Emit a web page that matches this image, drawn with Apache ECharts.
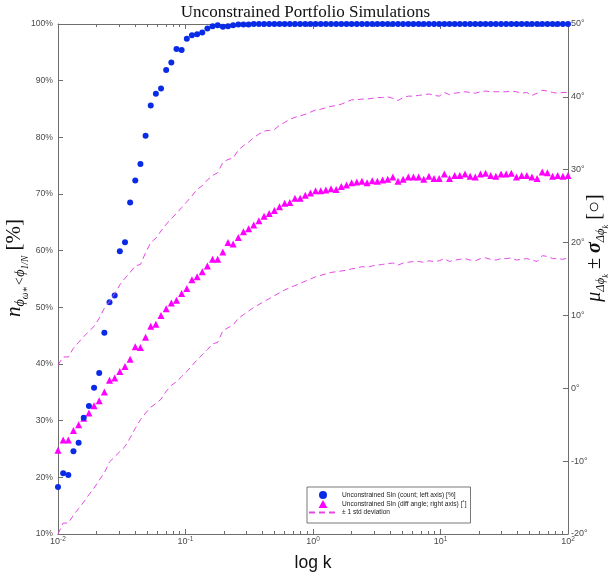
<!DOCTYPE html>
<html>
<head>
<meta charset="utf-8">
<script src="https://cdn.jsdelivr.net/npm/echarts@6/dist/echarts.min.js"></script>
<style>html,body{margin:0;padding:0;background:#fff}#c{width:611px;height:579px}</style>
</head>
<body>
<div id="c"></div>
<script>
// ---- data ----
const kValues = [0.01, 0.01098, 0.01205, 0.01322, 0.01451, 0.01592, 0.01748, 0.01918, 0.02105, 0.02310,
  0.02535, 0.02783, 0.03054, 0.03352, 0.03678, 0.04037, 0.04431, 0.04863, 0.05337, 0.05857,
  0.06428, 0.07055, 0.07743, 0.08498, 0.09326,
  0.1024, 0.1123, 0.1233, 0.1353, 0.1485, 0.1630, 0.1789, 0.1963, 0.2154, 0.2364,
  0.2595, 0.2848, 0.3126, 0.3430, 0.3765, 0.4132, 0.4535, 0.4977, 0.5462, 0.5995,
  0.6579, 0.7221, 0.7925, 0.8697, 0.9545,
  1.048, 1.150, 1.262, 1.385, 1.520, 1.668, 1.831, 2.009, 2.205, 2.420,
  2.656, 2.915, 3.199, 3.511, 3.853, 4.229, 4.642, 5.094, 5.591, 6.136,
  6.734, 7.391, 8.111, 8.902, 9.770,
  10.72, 11.77, 12.92, 14.17, 15.56, 17.07, 18.74, 20.57, 22.57, 24.77,
  27.19, 29.84, 32.75, 35.94, 39.44, 43.29, 47.51, 52.14, 57.23, 62.80,
  68.93, 75.65, 83.02, 91.12, 100];

const countPct = [18.3, 20.7, 20.4, 24.6, 26.1, 30.5, 32.6, 35.8, 38.4, 45.5,
  50.9, 52.1, 59.9, 61.5, 68.5, 72.4, 75.3, 80.3, 85.6, 87.7,
  88.6, 91.9, 93.2, 95.6, 95.4, 97.4, 98.0, 98.2, 98.5, 99.2,
  99.6, 99.8, 99.5, 99.6, 99.8, 99.9, 99.9, 99.9, 100, 100,
  100, 100, 100, 100, 100, 100, 100, 100, 100, 100,
  100, 100, 100, 100, 100, 100, 100, 100, 100, 100,
  100, 100, 100, 100, 100, 100, 100, 100, 100, 100,
  100, 100, 100, 100, 100, 100, 100, 100, 100, 100,
  100, 100, 100, 100, 100, 100, 100, 100, 100, 100,
  100, 100, 100, 100, 100, 100, 100, 100, 100, 100];

const diffAngleMean = [-8.5, -7.1, -7.1, -5.8, -5.0, -4.1, -3.4, -2.4, -1.7, -0.5,
  1.1, 1.4, 2.3, 3.0, 4.0, 5.7, 5.6, 7.0, 8.5, 8.8,
  10.0, 10.9, 11.7, 12.1, 13.0, 13.7, 14.9, 15.3, 16.0, 16.8,
  17.7, 17.7, 18.7, 20.0, 19.8, 20.7, 21.5, 21.9, 22.4, 23.0,
  23.6, 24.0, 24.4, 24.9, 25.4, 25.5, 26.1, 26.1, 26.5, 26.8,
  27.1, 27.1, 27.2, 27.4, 27.3, 27.7, 27.9, 28.2, 28.3, 28.4,
  28.2, 28.5, 28.4, 28.6, 28.7, 29.0, 28.4, 28.7, 29.0, 29.0,
  29.0, 28.7, 29.1, 28.8, 28.8, 29.4, 28.8, 29.2, 29.2, 29.4,
  29.1, 29.0, 29.4, 29.5, 29.2, 29.1, 29.4, 29.4, 29.5, 29.0,
  29.2, 29.2, 29.0, 28.8, 29.7, 29.6, 29.1, 29.2, 29.1, 29.2];

const diffAngleUpper = [3.2, 4.3, 4.3, 5.5, 6.3, 7.1, 7.8, 8.5, 9.6, 11.0,
  11.9, 13.0, 14.2, 15.1, 15.9, 16.8, 17.0, 18.6, 20.0, 20.6,
  21.6, 22.5, 23.3, 24.0, 24.8, 25.6, 26.4, 27.3, 27.8, 28.6,
  29.2, 29.6, 31.0, 31.4, 31.6, 32.7, 33.3, 33.8, 34.4, 34.9,
  35.3, 35.4, 35.5, 36.1, 36.5, 36.9, 37.2, 37.4, 37.6, 37.9,
  38.2, 38.3, 38.5, 38.7, 38.8, 39.0, 39.3, 39.6, 39.6, 39.7,
  39.7, 39.8, 39.9, 39.9, 40.0, 39.8, 39.5, 39.9, 40.1, 40.1,
  40.2, 40.3, 40.4, 40.2, 40.1, 40.6, 40.3, 40.5, 40.6, 40.7,
  40.6, 40.5, 40.7, 40.8, 40.7, 40.7, 40.7, 40.7, 40.8, 40.7,
  40.5, 40.6, 40.2, 40.5, 40.9, 40.8, 40.6, 40.5, 40.6, 40.6];

const diffAngleLower = [-20.0, -18.5, -18.5, -17.4, -16.5, -15.6, -14.6, -13.7, -12.6, -11.6,
  -10.1, -9.4, -8.7, -8.0, -6.8, -5.5, -4.3, -3.4, -2.6, -2.1,
  -1.5, -0.4, 0.4, 0.9, 1.6, 2.3, 3.1, 3.9, 4.6, 5.3,
  6.1, 6.3, 7.9, 8.3, 8.7, 9.6, 10.1, 10.6, 11.1, 11.5,
  11.9, 12.3, 12.7, 13.1, 13.5, 13.8, 14.1, 14.4, 14.7, 15.0,
  15.3, 15.5, 15.7, 15.9, 16.0, 16.1, 16.2, 16.4, 16.5, 16.7,
  16.6, 16.8, 16.9, 17.0, 17.1, 17.2, 16.9, 17.2, 17.3, 17.4,
  17.4, 17.3, 17.5, 17.4, 17.5, 17.8, 17.4, 17.6, 17.7, 17.8,
  17.6, 17.5, 17.8, 17.9, 17.7, 17.6, 17.8, 17.8, 17.9, 17.6,
  17.7, 17.8, 17.6, 17.4, 18.2, 18.1, 17.8, 17.8, 17.7, 17.9];

const minorTickValues = [0.02, 0.03, 0.04, 0.05, 0.06, 0.07, 0.08, 0.09,
  0.2, 0.3, 0.4, 0.5, 0.6, 0.7, 0.8, 0.9,
  2, 3, 4, 5, 6, 7, 8, 9,
  20, 30, 40, 50, 60, 70, 80, 90];

const nameCount = 'Unconstrained Sln (count; left axis) [%]';
const nameAngle = 'Unconstrained Sln (diff angle; right axis) [\u02DA]';
const nameStd = '\u00B1 1 std deviation';
const titleText = 'Unconstrained Portfolio Simulations';

// ---- chart ----
const AX = '#6e6e6e';
const LBL = '#4a4a4a';
const SANS = 'Liberation Sans, Arial, sans-serif';
const SERIF = 'Liberation Serif, DejaVu Serif, serif';
const BLUE = '#0a2be6';
const MAG = '#ff00ff';
const DASH = '#e448e4';

function pairs(ys) { return kValues.map((k, i) => [k, ys[i]]); }

function xMajor(pos, showLabel, name) {
  return {
    type: 'log', logBase: 10, min: 0.01, max: 100, splitNumber: 4, position: pos, gridIndex: 0,
    name: name || '', nameLocation: 'middle', nameGap: 20,
    nameTextStyle: { fontFamily: SANS, fontSize: 17.5, color: '#111' },
    axisLine: { show: true, onZero: false, lineStyle: { color: AX, width: 1 } },
    axisTick: { show: true, inside: true, length: 5, lineStyle: { color: AX } },
    axisLabel: {
      show: showLabel, margin: 2,
      formatter: v => '{b|10}{s|' + Math.round(Math.log10(v)) + '}',
      rich: {
        b: { fontFamily: SANS, fontSize: 9, color: LBL, verticalAlign: 'bottom', lineHeight: 10, padding: [4, 0, 0, 0] },
        s: { fontFamily: SANS, fontSize: 6.5, color: LBL, verticalAlign: 'top', lineHeight: 7 }
      }
    },
    splitLine: { show: false }, minorTick: { show: false }
  };
}
function xMinor(pos) {
  return {
    type: 'log', logBase: 10, min: 0.01, max: 100, position: pos, gridIndex: 0,
    axisLine: { show: false, onZero: false },
    axisTick: { show: true, inside: true, length: 3, customValues: minorTickValues, lineStyle: { color: AX } },
    axisLabel: { show: false },
    splitLine: { show: false }
  };
}

const option = {
  animation: false,
  backgroundColor: '#ffffff',
  title: {
    text: titleText, left: 'center', top: 0, padding: [4, 0, 0, 15],
    textStyle: { fontFamily: SERIF, fontSize: 17, fontWeight: 'normal', color: '#111' }
  },
  grid: { left: 58, right: 43, top: 24, bottom: 45, containLabel: false },
  xAxis: [xMajor('bottom', true, 'log k'), xMinor('bottom'), xMajor('top', false), xMinor('top')],
  yAxis: [
    {
      type: 'value', position: 'left', min: 10, max: 100, interval: 10,
      axisLine: { show: true, onZero: false, lineStyle: { color: AX } },
      axisTick: { show: true, inside: true, length: 5, lineStyle: { color: AX } },
      axisLabel: { formatter: '{value}%', fontFamily: SANS, fontSize: 8.6, color: LBL, margin: 5 },
      splitLine: { show: false }
    },
    {
      type: 'value', position: 'right', min: -20, max: 50, interval: 10,
      axisLine: { show: true, onZero: false, lineStyle: { color: AX } },
      axisTick: { show: true, inside: true, length: 5, lineStyle: { color: AX } },
      axisLabel: { formatter: '{value}\u00B0', fontFamily: SANS, fontSize: 9, color: LBL, margin: 3 },
      splitLine: { show: false }
    }
  ],
  legend: {
    orient: 'vertical', left: 307, top: 487,
    data: [
      { name: nameCount, icon: 'circle' },
      { name: nameAngle, icon: 'path://M5,0L10,9L0,9Z' },
      { name: nameStd, itemStyle: { opacity: 0 } }
    ],
    symbolKeepAspect: true,
    itemWidth: 28, itemHeight: 8, itemGap: 1,
    padding: [4, 4, 7, 1],
    borderColor: '#555', borderWidth: 0.8, backgroundColor: '#fff',
    selectedMode: false,
    textStyle: { fontFamily: SANS, fontSize: 6.6, color: '#222' }
  },
  series: [
    {
      name: nameStd, type: 'line', xAxisIndex: 0, yAxisIndex: 1, data: pairs(diffAngleUpper),
      symbol: 'none', showSymbol: false, silent: true,
      lineStyle: { color: DASH, width: 1, type: [6, 4] }, itemStyle: { color: DASH }
    },
    {
      name: nameStd, type: 'line', xAxisIndex: 0, yAxisIndex: 1, data: pairs(diffAngleLower),
      symbol: 'none', showSymbol: false, silent: true,
      lineStyle: { color: DASH, width: 1, type: [6, 4] }, itemStyle: { color: DASH }
    },
    {
      name: nameAngle, type: 'scatter', xAxisIndex: 0, yAxisIndex: 1, data: pairs(diffAngleMean),
      symbol: 'triangle', symbolSize: 7, symbolKeepAspect: true, silent: true,
      itemStyle: { color: MAG, opacity: 1 }
    },
    {
      name: nameCount, type: 'scatter', xAxisIndex: 0, yAxisIndex: 0, data: pairs(countPct),
      symbol: 'circle', symbolSize: 6, symbolKeepAspect: true, silent: true,
      itemStyle: { color: BLUE, opacity: 1 }
    }
  ],
  graphic: [
    {
      type: 'text', x: 20, y: 268, rotation: Math.PI / 2,
      style: {
        text: '{n|n}{s1|\u03D5}{s2|\u03C9\u2217}{s1|<\u03D5}{s2|1/N}{t| [%]}',
        align: 'center', verticalAlign: 'middle', fill: '#111',
        rich: {
          n: { fontFamily: SERIF, fontStyle: 'italic', fontSize: 21, lineHeight: 21, verticalAlign: 'bottom', padding: [0, 0, 6, 0] },
          s1: { fontFamily: SERIF, fontStyle: 'italic', fontSize: 14, lineHeight: 14, verticalAlign: 'bottom', padding: [0, 0, 3, 0] },
          s2: { fontFamily: SERIF, fontStyle: 'italic', fontSize: 9.5, lineHeight: 9.5, verticalAlign: 'bottom' },
          t: { fontFamily: SERIF, fontSize: 21, lineHeight: 21, verticalAlign: 'bottom', padding: [0, 0, 6, 0] }
        }
      }
    },
    {
      type: 'text', x: 600, y: 248, rotation: Math.PI / 2,
      style: {
        text: '{g|\u03BC}{s1|\u0394\u03D5}{s2|k}{p| \u00B1 }{gb|\u03C3}{s1|\u0394\u03D5}{s2|k}{t| [\u25CB]}',
        align: 'center', verticalAlign: 'middle', fill: '#111',
        rich: {
          g: { fontFamily: SERIF, fontStyle: 'italic', fontSize: 20, lineHeight: 20, verticalAlign: 'bottom', padding: [0, 0, 5, 0] },
          gb: { fontFamily: SERIF, fontStyle: 'italic', fontWeight: 'bold', fontSize: 20, lineHeight: 20, verticalAlign: 'bottom', padding: [0, 0, 5, 0] },
          p: { fontFamily: SERIF, fontSize: 20, lineHeight: 20, verticalAlign: 'bottom', padding: [0, 0, 5, 0] },
          s1: { fontFamily: SERIF, fontStyle: 'italic', fontSize: 12.5, lineHeight: 12.5, verticalAlign: 'bottom', padding: [0, 0, 3, 0] },
          s2: { fontFamily: SERIF, fontStyle: 'italic', fontSize: 8.5, lineHeight: 8.5, verticalAlign: 'bottom' },
          t: { fontFamily: SERIF, fontSize: 20, lineHeight: 20, verticalAlign: 'bottom', padding: [0, 0, 5, 0] }
        }
      }
    }
  ]
};

const chart = echarts.init(document.getElementById('c'), null, { renderer: 'canvas', width: 611, height: 579 });
chart.setOption(option);
</script>
</body>
</html>
